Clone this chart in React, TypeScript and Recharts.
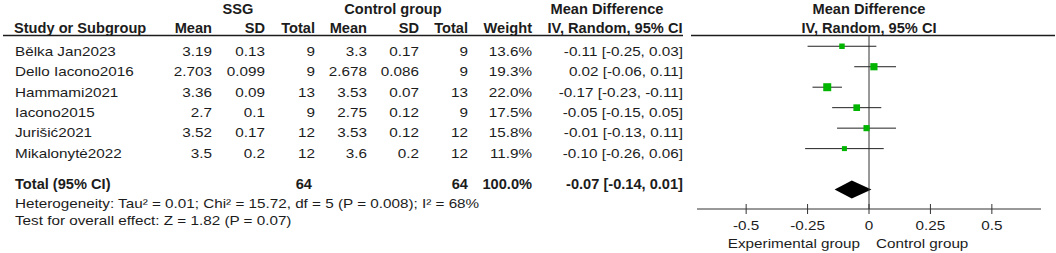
import { ScatterChart, Scatter, XAxis, YAxis, ReferenceLine, ReferenceArea, Customized } from "recharts";

const studies = ["Bělka Jan2023", "Dello Iacono2016", "Hammami2021", "Iacono2015", "Jurišić2021", "Mikalonytė2022"];
const ssgMean = [3.19, 2.703, 3.36, 2.7, 3.52, 3.5];
const ssgSd = [0.13, 0.099, 0.09, 0.1, 0.17, 0.2];
const ssgN = [9, 9, 13, 9, 12, 12];
const ctrlMean = [3.3, 2.678, 3.53, 2.75, 3.53, 3.6];
const ctrlSd = [0.17, 0.086, 0.07, 0.12, 0.12, 0.2];
const ctrlN = [9, 9, 13, 9, 12, 12];
const weights = [13.6, 19.3, 22.0, 17.5, 15.8, 11.9];
const meanDiff = [-0.11, 0.02, -0.17, -0.05, -0.01, -0.1];
const ciLow = [-0.25, -0.06, -0.23, -0.15, -0.13, -0.26];
const ciHigh = [0.03, 0.11, -0.11, 0.05, 0.11, 0.06];

const totalN = [64, 64];
const totalWeight = 100.0;
const totalMd = -0.07;
const totalLow = -0.14;
const totalHigh = 0.01;
const totalRow = 7;

const xTicks = [-0.5, -0.25, 0, 0.25, 0.5];
const heterogeneity = "Heterogeneity: Tau² = 0.01; Chi² = 15.72, df = 5 (P = 0.008); I² = 68%";
const overallEffect = "Test for overall effect: Z = 1.82 (P = 0.07)";

const FONT = "'Liberation Sans', Arial, sans-serif";
const INK = "#1c1c1c";
// the original text is a little wider than Arial at its height
const REG = { size: 13.5, sx: 1.13 };
const BOLD = { size: 14, sx: 1.045 };

const points = studies.map((s, i) => ({ md: meanDiff[i], row: i, w: weights[i] }));
const ci = (m: number, lo: number, hi: number) => `${m.toFixed(2)} [${lo.toFixed(2)}, ${hi.toFixed(2)}]`;

// column right edges for the table
const cols = [212, 265, 315, 367, 419, 468, 532, 683];

function label(x: number, y: number, s: string, anchor: "start" | "middle" | "end" = "end", bold = false) {
  const f = bold ? BOLD : REG;
  return (
    <text
      key={`${x}-${y}-${s}`}
      transform={`translate(${x},${y}) scale(${f.sx},1)`}
      textAnchor={anchor}
      dominantBaseline="central"
      fontSize={f.size}
      fontWeight={bold ? 700 : 400}
      fontFamily={FONT}
      fill={INK}
    >
      {s}
    </text>
  );
}

function Square(props: any) {
  const { cx, cy, payload } = props;
  const s = 0.3 * payload.w + 1.4;
  return <rect x={cx - s / 2} y={cy - s / 2} width={s} height={s} fill="#00b400" />;
}

function Diamond(props: any) {
  const { x, y, width, height } = props;
  const f = (totalMd - totalLow) / (totalHigh - totalLow);
  const pts = [
    [x, y + height / 2],
    [x + width * f, y],
    [x + width, y + height / 2],
    [x + width * f, y + height],
  ];
  return <polygon points={pts.map((p) => p.join(",")).join(" ")} fill="#000" />;
}

function AxisTick(props: any) {
  const { x, y, payload } = props;
  return (
    <g>
      <line x1={x} x2={x} y1={y - 5} y2={y + 5} stroke="#333" />
      {label(x, y + 16, String(payload.value), "middle")}
    </g>
  );
}

function Table() {
  const rowY = (i: number) => 51 + i * 20.45;
  const t = label;
  return (
    <g>
      {t(238, 9, "SSG", "middle", true)}
      {t(393, 9, "Control group", "middle", true)}
      {t(607, 9, "Mean Difference", "middle", true)}
      {t(869, 9, "Mean Difference", "middle", true)}
      {t(14, 28, "Study or Subgroup", "start", true)}
      {["Mean", "SD", "Total", "Mean", "SD", "Total", "Weight"].map((h, k) => t(cols[k], 28, h, "end", true))}
      {t(615, 28, "IV, Random, 95% CI", "middle", true)}
      {t(869, 28, "IV, Random, 95% CI", "middle", true)}
      <line x1={3} x2={683} y1={35.5} y2={35.5} stroke={INK} strokeWidth={1.4} />
      <line x1={691} x2={1055} y1={35.5} y2={35.5} stroke={INK} strokeWidth={1.4} />
      {studies.map((s, i) => (
        <g key={s}>
          {t(15, rowY(i), s, "start")}
          {t(cols[0], rowY(i), String(ssgMean[i]))}
          {t(cols[1], rowY(i), String(ssgSd[i]))}
          {t(cols[2], rowY(i), String(ssgN[i]))}
          {t(cols[3], rowY(i), String(ctrlMean[i]))}
          {t(cols[4], rowY(i), String(ctrlSd[i]))}
          {t(cols[5], rowY(i), String(ctrlN[i]))}
          {t(cols[6], rowY(i), `${weights[i].toFixed(1)}%`)}
          {t(cols[7], rowY(i), ci(meanDiff[i], ciLow[i], ciHigh[i]))}
        </g>
      ))}
      {t(15, 184.5, "Total (95% CI)", "start", true)}
      {t(312, 184.5, String(totalN[0]), "end", true)}
      {t(cols[5], 184.5, String(totalN[1]), "end", true)}
      {t(cols[6], 184.5, `${totalWeight.toFixed(1)}%`, "end", true)}
      {t(cols[7], 184.5, ci(totalMd, totalLow, totalHigh), "end", true)}
      {t(15, 203, heterogeneity, "start")}
      {t(15, 220, overallEffect, "start")}
      {t(860, 243, "Experimental group", "end")}
      {t(876, 243, "Control group", "start")}
    </g>
  );
}

export default function App() {
  return (
    <div style={{ position: "absolute", left: 0, top: 0, background: "#fff" }}>
      <ScatterChart width={1056} height={253} margin={{ top: 35, right: 15, bottom: 14, left: 697 }}>
        <XAxis
          type="number"
          dataKey="md"
          domain={[-0.7, 0.7]}
          ticks={xTicks}
          interval={0}
          height={30}
          tickSize={0}
          tickMargin={0}
          tickLine={false}
          axisLine={{ stroke: "#333" }}
          tick={<AxisTick />}
          allowDataOverflow
        />
        <YAxis type="number" dataKey="row" domain={[-0.55, 7.95]} reversed hide allowDataOverflow />
        <ReferenceLine x={0} stroke="#333" />
        {studies.map((s, i) => (
          <ReferenceLine
            key={s}
            segment={[
              { x: ciLow[i], y: i },
              { x: ciHigh[i], y: i },
            ]}
            stroke="#222"
          />
        ))}
        <ReferenceArea x1={totalLow} x2={totalHigh} y1={totalRow - 0.44} y2={totalRow + 0.44} shape={<Diamond />} />
        <Scatter data={points} shape={<Square />} isAnimationActive={false} />
        <Customized component={<Table />} />
      </ScatterChart>
    </div>
  );
}
